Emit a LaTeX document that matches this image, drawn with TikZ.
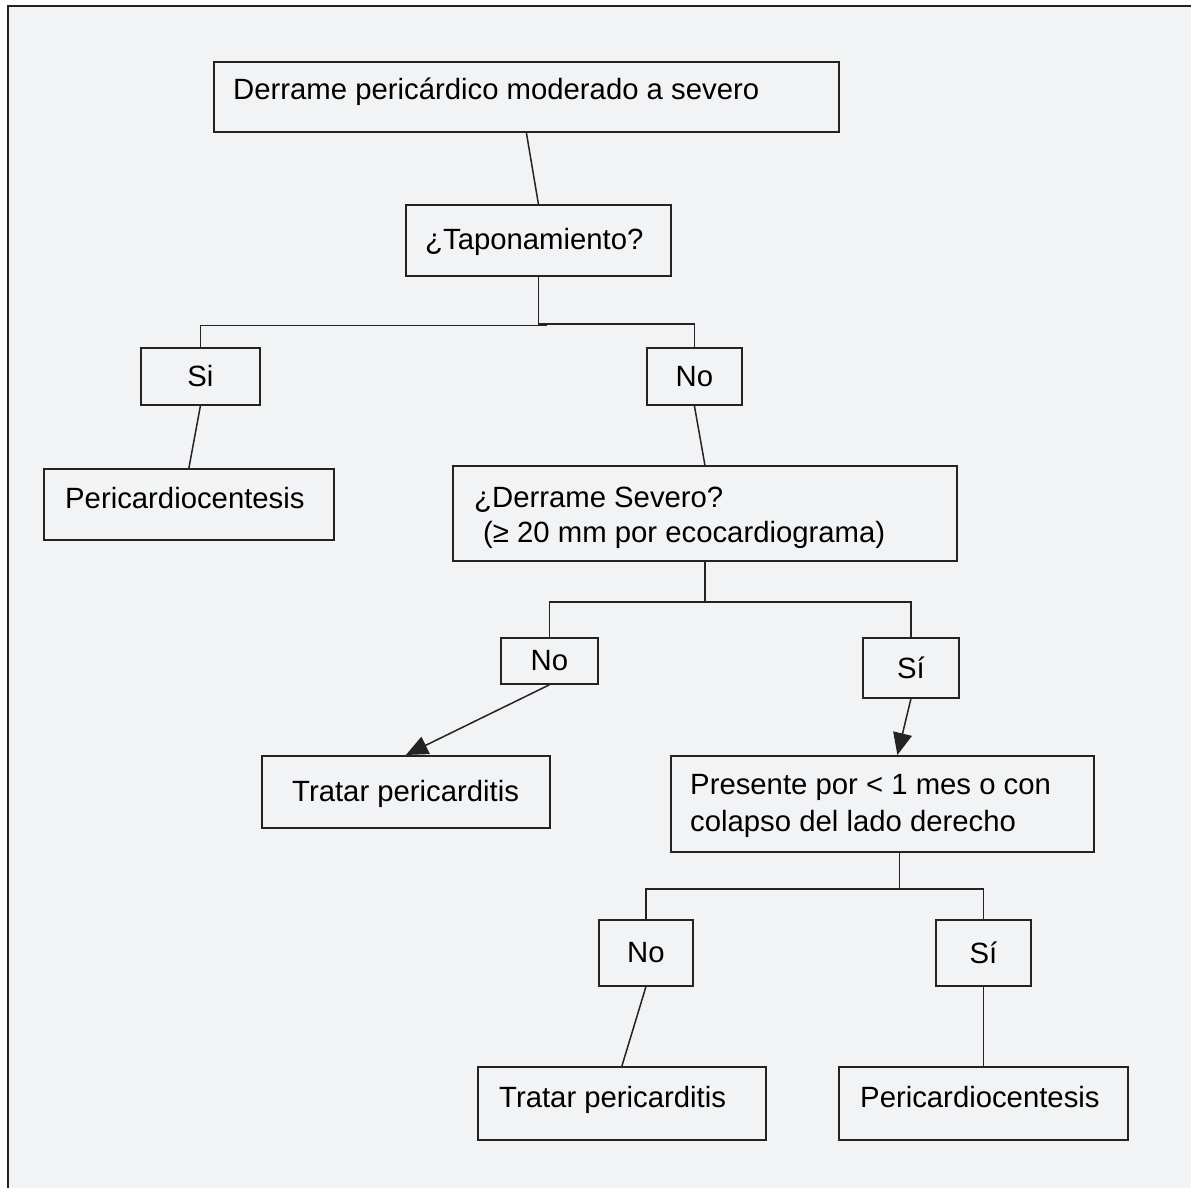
\documentclass[tikz,border=0pt]{standalone}
\usepackage{fontspec}
\setmainfont{Liberation Sans}
\usetikzlibrary{arrows.meta,calc}

\definecolor{fondo}{RGB}{242,243,245}
\definecolor{linea}{RGB}{35,35,35}

\tikzset{
  caja/.style={draw=linea, line width=1.8pt, inner sep=0pt, anchor=north west, font=\fontsize{29.3}{36}\selectfont},
  texto/.style={anchor=base west, inner sep=0pt, font=\fontsize{29.3}{36}\selectfont},
  rama/.style={draw=linea, line width=1.5pt},
  flecha/.style={rama, -{Triangle[length=22pt,width=19pt]}}
}

\begin{document}
\begin{tikzpicture}[x=1pt,y=-1pt]
\useasboundingbox (0,0) rectangle (1191,1188);
\fill[fondo] (8,6) rectangle (1191,1188);
\draw[linea, line width=1.8pt] (8,1188) -- (8,6) -- (1191,6);

%cajas
\node[caja, minimum width=625pt, minimum height=70pt] (derrame) at (213,61) {};
\node[caja, minimum width=265pt, minimum height=71pt] (tapon) at (405,204) {};
\node[caja, minimum width=119pt, minimum height=57pt] (si) at (140,347) {Si};
\node[caja, minimum width=95pt, minimum height=57pt] (no) at (646,347) {No};
\node[caja, minimum width=290pt, minimum height=71pt] (peri1) at (43,468) {};
\node[caja, minimum width=504pt, minimum height=95pt] (severo) at (452,465) {};
\node[caja, minimum width=97pt, minimum height=46pt] (no2) at (500,637) {No};
\node[caja, minimum width=96pt, minimum height=60pt] (si2) at (862,637) {Sí};
\node[caja, minimum width=288pt, minimum height=72pt] (tratar1) at (261,755) {};
\node[caja, minimum width=423pt, minimum height=96pt] (presente) at (670,755) {};
\node[caja, minimum width=94pt, minimum height=66pt] (no3) at (598,919) {No};
\node[caja, minimum width=95pt, minimum height=66pt] (si3) at (935,919) {Sí};
\node[caja, minimum width=288pt, minimum height=73pt] (tratar2) at (477,1066) {};
\node[caja, minimum width=289pt, minimum height=73pt] (peri2) at (838,1066) {};

%textos
\node[texto] (t-derrame) at (233,100) {Derrame pericárdico moderado a severo};
\node[texto] (t-tapon) at (425,249) {¿Taponamiento?};
\node[texto] (t-peri1) at (65,508) {Pericardiocentesis};
\node[texto] (t-severo1) at (474,507) {¿Derrame Severo?};
\node[texto] (t-severo2) at (483,542) {(≥ 20 mm por ecocardiograma)};
\node[texto] (t-tratar1) at (292,801) {Tratar pericarditis};
\node[texto] (t-presente1) at (690,794) {Presente por < 1 mes o con};
\node[texto] (t-presente2) at (690,831) {colapso del lado derecho};
\node[texto] (t-tratar2) at (499,1107) {Tratar pericarditis};
\node[texto] (t-peri2) at (860,1107) {Pericardiocentesis};

%lineas
\draw[rama] (derrame.south) -- (tapon.north);
\draw[rama] (tapon.south) -- ++(0,47) coordinate (r1);
\draw[rama] ($(r1)+(9,1.5)$) -| (si.north);
\draw[rama] (r1) -| (no.north);
\draw[rama] (si.south) -- (peri1.north);
\draw[rama] (no.south) -- (severo.north);

\draw[rama] (severo.south) -- ++(0,40) coordinate (r2);
\draw[rama] (r2) -| (no2.north);
\draw[rama] (r2) -| (si2.north);
\draw[flecha] (no2.south) -- (tratar1.north);
\draw[flecha] (si2.south) -- ($(presente.north)+(15,0)$);

\draw[rama] ($(presente.south)+(17,0)$) -- ++(0,36) coordinate (r3);
\draw[rama] (r3) -| (no3.north);
\draw[rama] (r3) -| (si3.north);
\draw[rama] (no3.south) -- (tratar2.north);
\draw[rama] (si3.south) -- (peri2.north);

\end{tikzpicture}
\end{document}
